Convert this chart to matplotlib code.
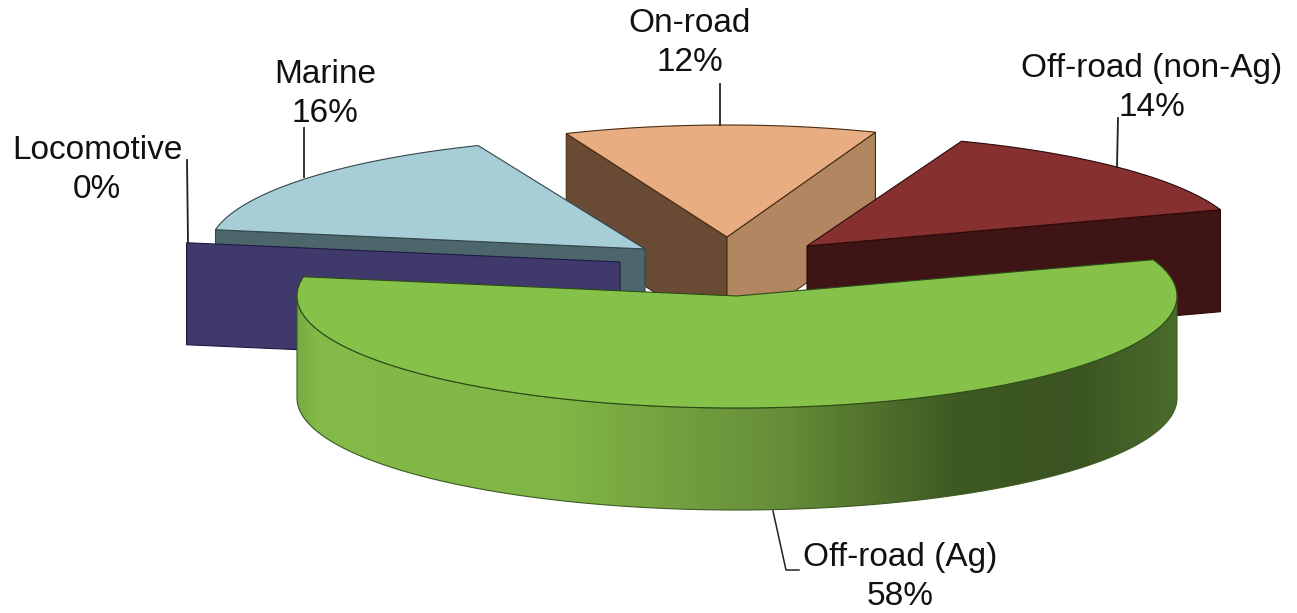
import numpy as np
import matplotlib
matplotlib.use('Agg')
import matplotlib.pyplot as plt
from matplotlib.patches import Polygon
from matplotlib.colors import LinearSegmentedColormap

plt.rcParams['font.family'] = ['Liberation Sans', 'DejaVu Sans']

# Data
categories = ['On-road', 'Off-road (non-Ag)', 'Off-road (Ag)', 'Locomotive', 'Marine']
shares = [12, 14, 58, 0, 16]

# Look of each slice, same order as categories
apex_x = [727, 807, 737, 620, 645]
apex_y = [237, 246, 296, 262, 249]
radius_x = [420, 437, 440, 440, 436]
radius_y = [112, 112, 112, 112, 112]
top_colors = ['#e8ae82', '#873030', '#86c14a', '#3f3a6b', '#a7cdd7']
face_colors = ['#684a35', '#3e1514', '#3f5a24', '#3f3a6b', '#4d666b']
edge_colors = ['#4a2c12', '#2a0a0a', '#2c4a16', '#1c1a44', '#33474c']
label_x = [690, 1152, 900, 97, 325]
label_y = [43, 88, 577, 170, 94]
start_angle = -22.5
depth = 102

fig = plt.figure(figsize=(12.97, 6.13), dpi=100)
ax = fig.add_axes([0, 0, 1, 1])


# Angle is clockwise from the top of the pie, screen y goes down
def rim(i, a0, a1):
    t = np.radians(np.linspace(a0, a1, 200))
    return np.column_stack([apex_x[i] + radius_x[i] * np.sin(t),
                            apex_y[i] - radius_y[i] * np.cos(t)])


def cut_face(ax, i, angle, color, zorder):
    # flat side of a slice, from the apex out to the rim and pushed down by depth
    apex = np.array([apex_x[i], apex_y[i]])
    end = rim(i, angle, angle)[0]
    pts = [apex, end, end + [0, depth], apex + [0, depth]]
    ax.add_patch(Polygon(pts, closed=True, facecolor=color, edgecolor=edge_colors[i],
                         lw=0.8, zorder=zorder))


def top(ax, i, a0, a1, zorder):
    pts = np.vstack([[apex_x[i], apex_y[i]], rim(i, a0, a1)])
    ax.add_patch(Polygon(pts, closed=True, facecolor=top_colors[i], edgecolor=edge_colors[i],
                         lw=0.8, zorder=zorder))


edges = start_angle + np.cumsum([0] + shares) * 3.6
a0 = edges[:-1]
a1 = edges[1:]

# On-road sits at the back, with both cut faces showing
cut_face(ax, 0, a0[0], face_colors[0], 1)
cut_face(ax, 0, a1[0], '#b28660', 1)
top(ax, 0, a0[0], a1[0], 2)

# Off-road (non-Ag)
cut_face(ax, 1, a1[1], face_colors[1], 3)
top(ax, 1, a0[1], a1[1], 4)

# Marine, then the zero size Locomotive slice in front of its face
cut_face(ax, 4, a0[4], face_colors[4], 3)
top(ax, 4, a0[4], a1[4], 4)
cut_face(ax, 3, a0[3], face_colors[3], 5)

# Off-road (Ag), only the front half of the rim has a visible wall
wall_rim = rim(2, 90, 270)
wall_pts = np.vstack([wall_rim, (wall_rim + [0, depth])[::-1]])
shade = LinearSegmentedColormap.from_list('wall', [
    (0.00, '#78ab44'), (0.02, '#83ba48'), (0.30, '#80b646'), (0.40, '#76a541'),
    (0.55, '#668e39'), (0.63, '#56782f'), (0.75, '#3e5923'), (0.88, '#3a5320'),
    (1.00, '#4b6b2b')])
wall = Polygon(wall_pts, closed=True, facecolor='none', edgecolor='#3c5a22', lw=0.8, zorder=7)
ax.add_patch(wall)
grad = ax.imshow(np.linspace(0, 1, 512).reshape(1, -1), cmap=shade, aspect='auto',
                 extent=[wall_pts[:, 0].min(), wall_pts[:, 0].max(), 520, 250], zorder=6)
grad.set_clip_path(Polygon(wall_pts, closed=True, transform=ax.transData))
top(ax, 2, a0[2], a1[2], 8)

# Leader lines
leader_color = '#222222'
ax.plot([187, 188], [160, 242], color=leader_color, lw=1.3, zorder=9)
ax.plot([304, 304], [128, 177], color=leader_color, lw=1.3, zorder=9)
ax.plot([720, 720], [84, 125], color=leader_color, lw=1.3, zorder=9)
ax.plot([1118, 1117], [118, 167], color=leader_color, lw=1.3, zorder=9)
ax.plot([773, 786, 799], [511, 570, 570], color=leader_color, lw=1.1, zorder=9)

# Labels
for name, share, x, y in zip(categories, shares, label_x, label_y):
    ax.text(x, y, f'{name}\n{share}%', ha='center', va='center', fontsize=24,
            linespacing=1.3, color='#111111', zorder=10)

ax.set_xlim(0, 1297)
ax.set_ylim(613, 0)
ax.axis('off')
fig.savefig('out.png', dpi=100)
